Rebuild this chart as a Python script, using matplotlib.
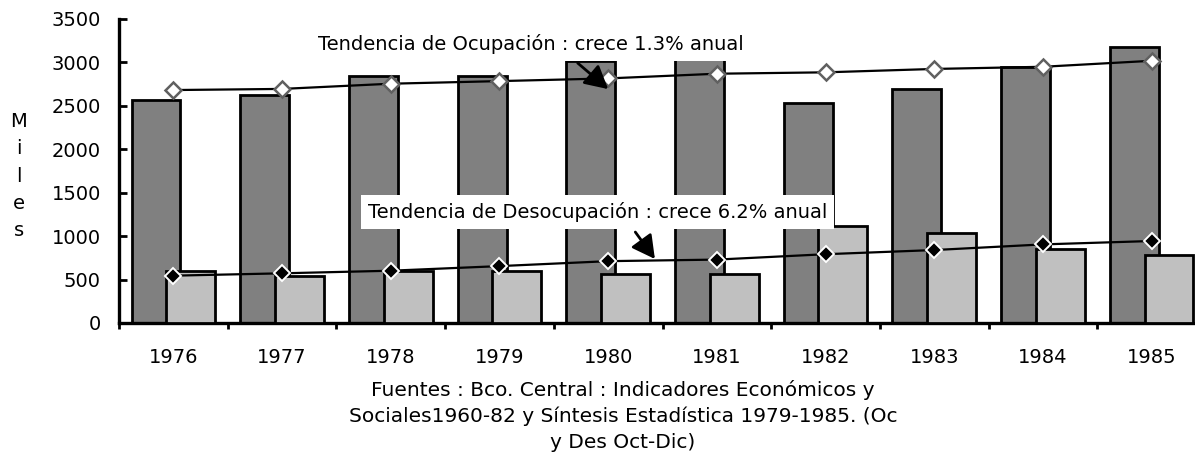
import matplotlib
matplotlib.use("Agg")
import matplotlib.pyplot as plt
import numpy as np

plt.rcParams['font.family'] = ['DejaVu Sans']

years = ['1976', '1977', '1978', '1979', '1980', '1981', '1982', '1983', '1984', '1985']
ocupacion = [2570, 2630, 2840, 2840, 3020, 3080, 2535, 2690, 2950, 3180]
desocupacion = [600, 540, 600, 600, 565, 565, 1120, 1032, 848, 783]
tend_ocupacion = [2682, 2695, 2755, 2785, 2816, 2870, 2886, 2925, 2950, 3019]
tend_desocupacion = [545, 572, 602, 655, 712, 730, 792, 840, 905, 944]
yticks = [0, 500, 1000, 1500, 2000, 2500, 3000, 3500]
label_ocup = 'Tendencia de Ocupación : crece 1.3% anual'
label_desoc = 'Tendencia de Desocupación : crece 6.2% anual'
ylabel = 'Miles'
fuente = ('Fuentes : Bco. Central : Indicadores Económicos y\n'
          'Sociales1960-82 y Síntesis Estadística 1979-1985. (Oc\n'
          'y Des Oct-Dic)')

W, H = 1195, 453
fig = plt.figure(figsize=(W / 100, H / 100), dpi=100)
ax = fig.add_axes([119 / W, 1 - 323 / H, 1087 / W, (323 - 19) / H])

x = np.arange(len(years))
bw = 0.45
off = 0.16
ax.bar(x - off, ocupacion, width=bw, color='#808080', edgecolor='black', linewidth=2, zorder=2)
ax.bar(x + off, desocupacion, width=bw, color='#c0c0c0', edgecolor='black', linewidth=2, zorder=3)

ax.plot(x, tend_ocupacion, color='black', lw=1.6, marker='D', markersize=8,
        markerfacecolor='white', markeredgecolor='#606060', markeredgewidth=1.8, zorder=5)
ax.plot(x, tend_desocupacion, color='black', lw=1.6, marker='D', markersize=8.5,
        markerfacecolor='black', markeredgecolor='white', markeredgewidth=1.4, zorder=5)

ax.set_xlim(-0.5, len(years) - 0.5)
ax.set_ylim(0, 3500)
ax.set_yticks(yticks)
ax.set_yticklabels([str(v) for v in yticks], fontsize=14)
ax.set_xticks(x)
ax.set_xticklabels(years, fontsize=14)
ax.set_xticks(np.arange(len(years) + 1) - 0.5, minor=True)
ax.tick_params(axis='x', which='major', length=0, pad=18)
ax.tick_params(axis='x', which='minor', length=4, width=2, direction='out')
ax.tick_params(axis='y', which='major', length=6, width=2, direction='in', pad=13)
for s in ['top', 'right']:
    ax.spines[s].set_visible(False)
for s in ['left', 'bottom']:
    ax.spines[s].set_linewidth(2.4)

bbox = dict(boxstyle='square,pad=0.35', facecolor='white', edgecolor='none')
ax.text(3.29, 3212, label_ocup, ha='center', va='center', fontsize=14, bbox=bbox, zorder=6)
ax.text(3.90, 1281, label_desoc, ha='center', va='center', fontsize=14, bbox=bbox, zorder=6)

arrow = dict(arrowstyle='-|>,head_length=0.5,head_width=0.27', color='black', lw=2,
             mutation_scale=28, shrinkA=0, shrinkB=0)
ax.annotate('', xy=(4.0, 2693), xytext=(3.72, 2993), arrowprops=arrow, zorder=7)
ax.annotate('', xy=(4.43, 737), xytext=(4.25, 1047), arrowprops=arrow, zorder=7)

fig.text(19 / W, 1 - 176 / H, '\n'.join(ylabel), ha='center', va='center',
         fontsize=14, linespacing=1.55)
fig.text(623 / W, 1 - 416 / H, fuente, ha='center', va='center', fontsize=14.5,
         linespacing=1.45, multialignment='center')

fig.savefig('out.png', dpi=100)
